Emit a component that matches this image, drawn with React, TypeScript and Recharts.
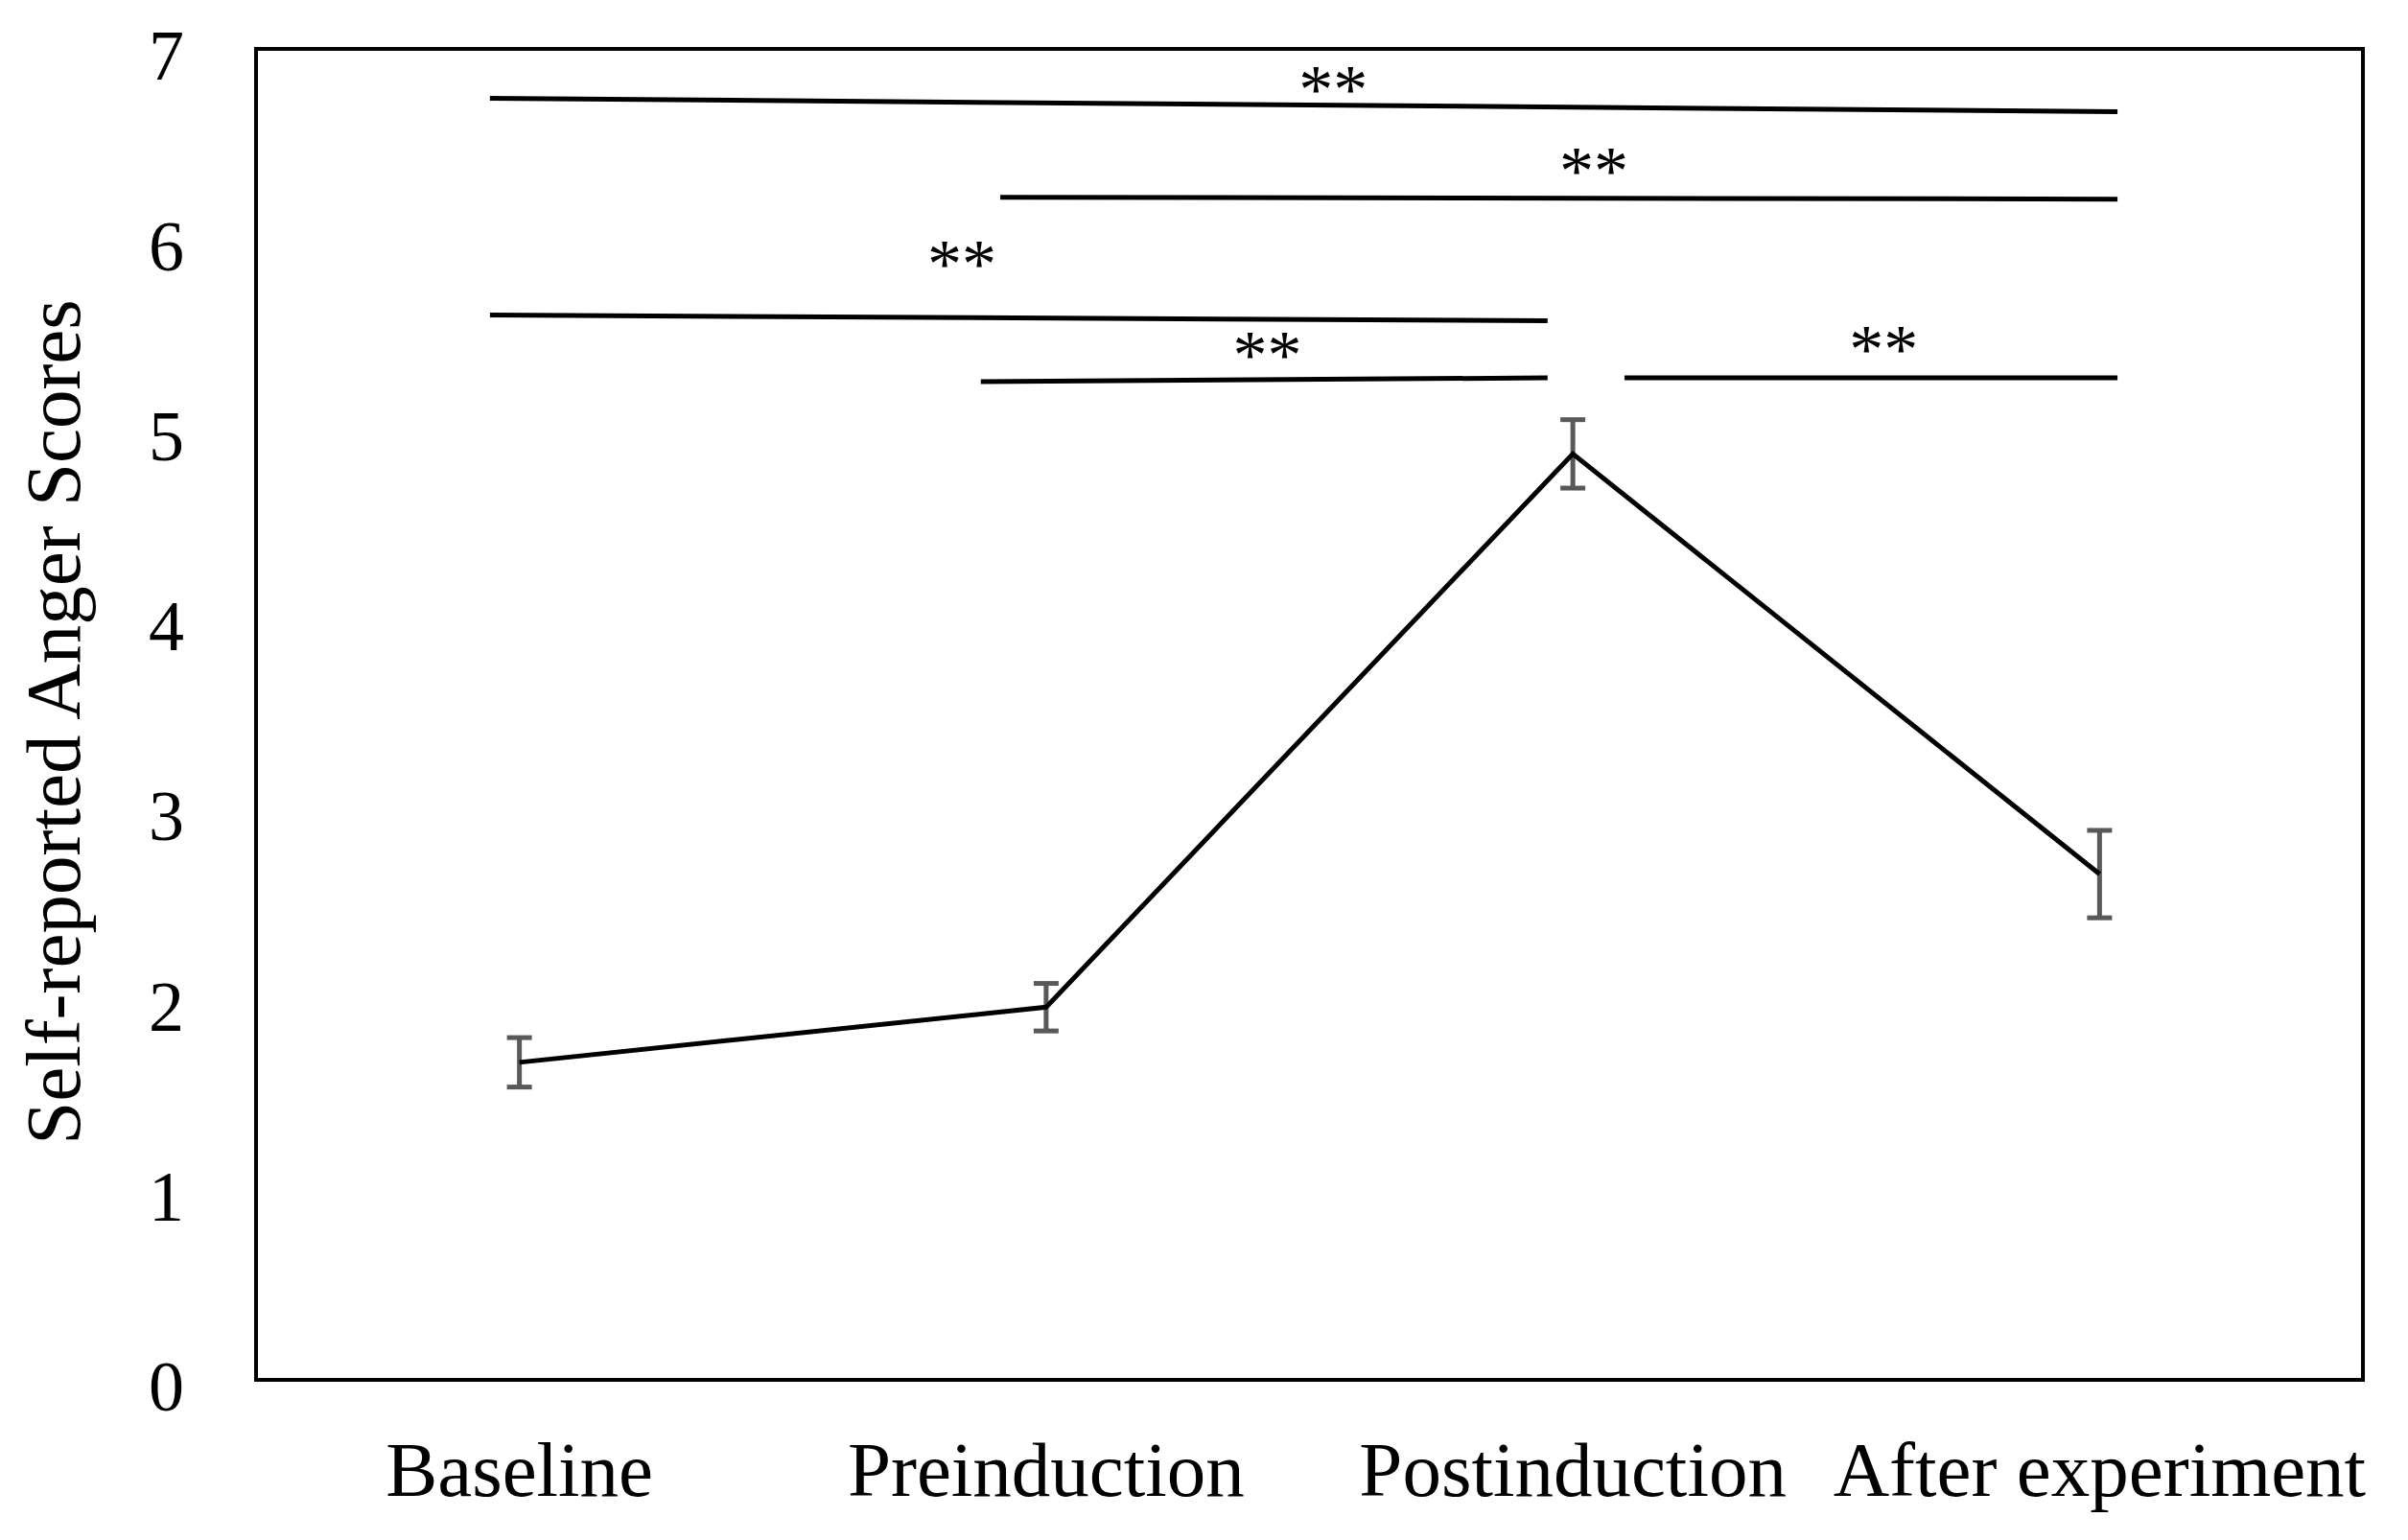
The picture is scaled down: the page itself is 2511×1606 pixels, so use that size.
import { ComposedChart, Line, XAxis, YAxis, ErrorBar, ReferenceLine, ReferenceArea, Scatter, Label } from 'recharts'

const stages = ['Baseline', 'Preinduction', 'Postinduction', 'After experiment']
const stagePos = [0.5, 1.5, 2.5, 3.5]
const meanScores = [1.67, 1.96, 4.87, 2.66]
const stdErrors = [0.13, 0.125, 0.18, 0.23]
const yTicks = [0, 1, 2, 3, 4, 5, 6, 7]

// significance brackets (drawn slightly slanted, like the original)
const bracketX1 = [0.444, 1.413, 0.444, 1.376, 2.598]
const bracketY1 = [6.74, 6.22, 5.6, 5.25, 5.27]
const bracketX2 = [3.534, 3.534, 2.452, 2.452, 3.534]
const bracketY2 = [6.67, 6.21, 5.57, 5.27, 5.27]
const starX = [2.045, 2.54, 1.34, 1.92, 3.09]
const starY = [6.83, 6.4, 5.91, 5.43, 5.46]

const FONT = '"Liberation Serif", "Times New Roman", serif'

const lineData = stages.map((name, i) => ({ name, x: stagePos[i], y: meanScores[i], err: stdErrors[i] }))
const starData = starX.map((x, i) => ({ x, y: starY[i] }))

const StarLabel = (props: any) => (
  <text x={props.cx} y={props.cy} dy={32} textAnchor="middle" fontFamily={FONT} fontSize={72} fill="#000">
    **
  </text>
)

export default function App() {
  return (
    <div style={{ fontFamily: FONT, background: '#fff' }}>
      <ComposedChart width={2495} height={1590} data={lineData} margin={{ top: 43, right: 39, bottom: 9, left: 0 }}>
        <XAxis
          dataKey="x"
          type="number"
          domain={[0, 4]}
          ticks={stagePos}
          tickFormatter={(v: number) => stages[stagePos.indexOf(v)]}
          axisLine={false}
          tickLine={false}
          tickMargin={57}
          height={150}
          tick={{ fontSize: 81, fontFamily: FONT, fill: '#000' }}
          interval={0}
        />
        <YAxis
          type="number"
          domain={[0, 7]}
          ticks={yTicks}
          axisLine={false}
          tickLine={false}
          tickMargin={69}
          width={259}
          tick={{ fontSize: 74, fontFamily: FONT, fill: '#000', dy: 6 }}
        >
          <Label
            content={(p: any) => {
              const cx = 48
              const cy = p.viewBox.y + p.viewBox.height / 2 + 8
              return (
                <text x={cx} y={cy} transform={`rotate(-90, ${cx}, ${cy})`} textAnchor="middle" dominantBaseline="central" fontFamily={FONT} fontSize={81} fill="#000">
                  Self-reported Anger Scores
                </text>
              )
            }}
          />
        </YAxis>
        <ReferenceArea x1={0} x2={4} y1={0} y2={7} fill="none" stroke="#000" strokeWidth={4} fillOpacity={0} ifOverflow="visible" />
        {bracketX1.map((x1, i) => (
          <ReferenceLine
            key={i}
            segment={[{ x: x1, y: bracketY1[i] }, { x: bracketX2[i], y: bracketY2[i] }]}
            stroke="#000"
            strokeWidth={5}
            ifOverflow="visible"
          />
        ))}
        <Line dataKey="y" stroke="#000" strokeWidth={5} dot={false} activeDot={false} isAnimationActive={false}>
          <ErrorBar dataKey="err" direction="y" width={13} stroke="#595959" strokeWidth={5} />
        </Line>
        <Scatter data={starData} dataKey="y" shape={StarLabel} isAnimationActive={false} />
      </ComposedChart>
    </div>
  )
}
